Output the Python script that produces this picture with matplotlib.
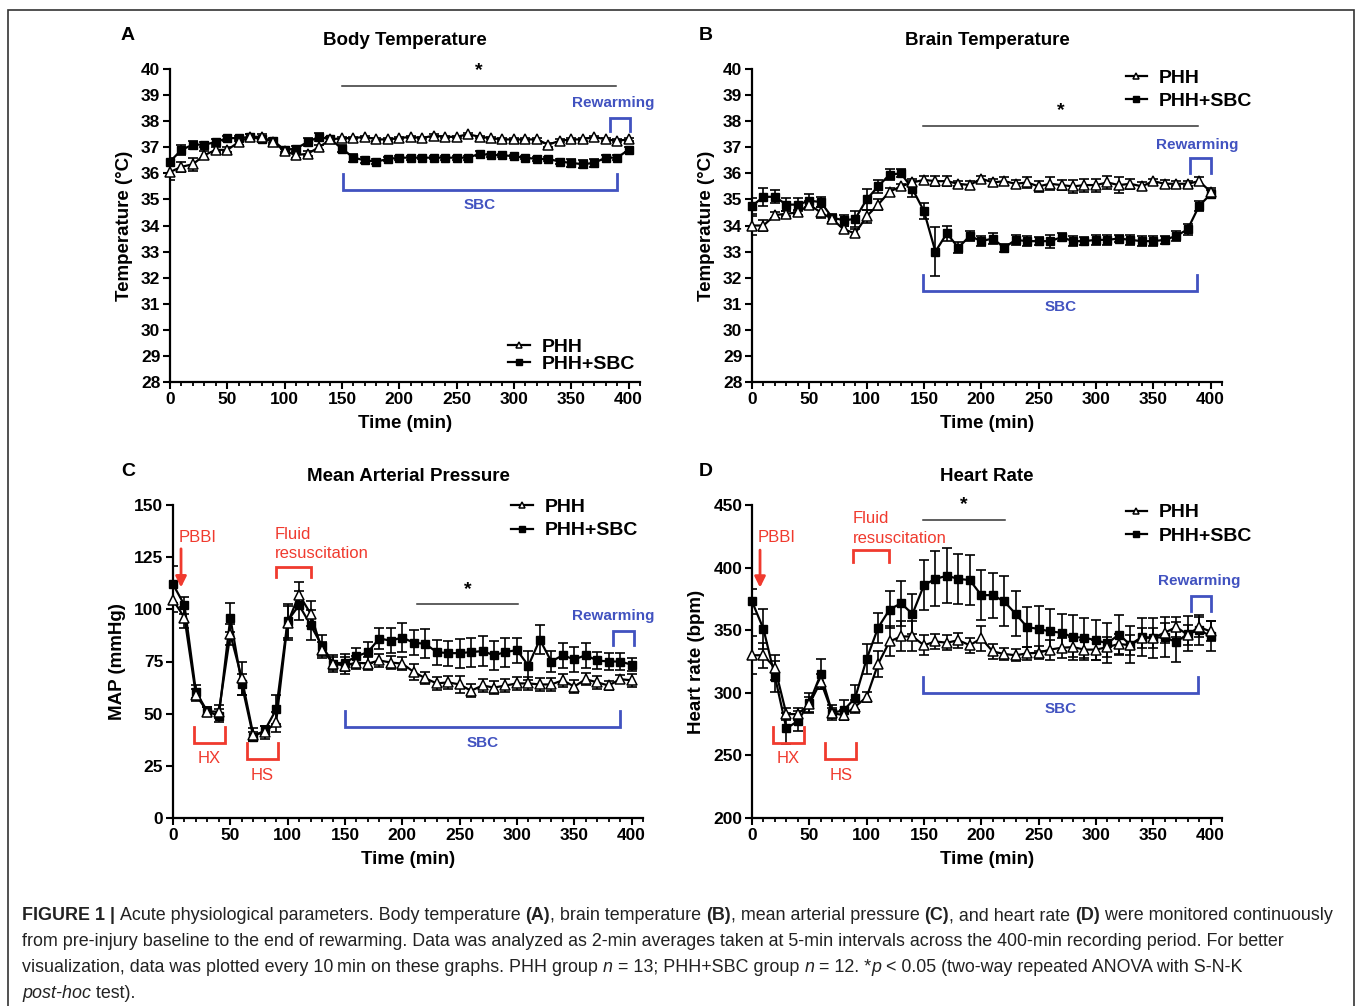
import matplotlib
matplotlib.use("Agg")
import matplotlib.pyplot as plt
from matplotlib.ticker import MultipleLocator
from matplotlib.patches import Rectangle

plt.rcParams['font.family'] = ['Liberation Sans', 'DejaVu Sans']

time = list(range(0, 401, 10))

# body temperature (A)
body_phh = [36.05, 36.25, 36.35, 36.7, 36.9, 36.9, 37.2, 37.4, 37.4, 37.2, 36.85, 36.7, 36.75, 37.0, 37.3,
            37.35, 37.35, 37.4, 37.3, 37.3, 37.35, 37.4, 37.35, 37.45, 37.4, 37.4, 37.5, 37.4, 37.35, 37.3,
            37.3, 37.3, 37.3, 37.1, 37.25, 37.3, 37.3, 37.4, 37.3, 37.25, 37.3]
body_phh_err = [0.3, 0.2, 0.25, 0.15, 0.1, 0.1, 0.1, 0.1, 0.1, 0.1, 0.1, 0.1, 0.1, 0.1, 0.1,
                0.05, 0.05, 0.05, 0.05, 0.05, 0.05, 0.05, 0.05, 0.05, 0.05, 0.05, 0.05, 0.05, 0.05, 0.05,
                0.05, 0.05, 0.05, 0.08, 0.05, 0.05, 0.05, 0.05, 0.05, 0.05, 0.05]
body_sbc = [36.45, 36.9, 37.1, 37.1, 37.2, 37.35, 37.35, 37.4, 37.3, 37.25, 36.9, 36.95, 37.2, 37.4, 37.3,
            36.95, 36.6, 36.5, 36.45, 36.55, 36.6, 36.6, 36.6, 36.6, 36.6, 36.6, 36.6, 36.75, 36.7, 36.7,
            36.65, 36.6, 36.55, 36.55, 36.45, 36.4, 36.35, 36.4, 36.6, 36.6, 36.9]
body_sbc_err = [0.15, 0.2, 0.15, 0.1, 0.1, 0.1, 0.1, 0.1, 0.1, 0.1, 0.1, 0.1, 0.15, 0.15, 0.1,
                0.15, 0.15, 0.12, 0.1, 0.08, 0.08, 0.08, 0.06, 0.06, 0.08, 0.08, 0.08, 0.1, 0.06, 0.06,
                0.06, 0.06, 0.06, 0.08, 0.1, 0.15, 0.15, 0.15, 0.1, 0.1, 0.1]

# brain temperature (B)
brain_phh = [34.0, 34.0, 34.4, 34.45, 34.5, 34.8, 34.5, 34.25, 33.85, 33.7, 34.35, 34.8, 35.3, 35.5, 35.65,
             35.75, 35.7, 35.7, 35.6, 35.55, 35.8, 35.65, 35.7, 35.6, 35.65, 35.5, 35.6, 35.55, 35.5, 35.55,
             35.55, 35.65, 35.55, 35.6, 35.5, 35.7, 35.6, 35.6, 35.6, 35.7, 35.3]
brain_phh_err = [0.35, 0.2, 0.1, 0.1, 0.1, 0.15, 0.2, 0.15, 0.15, 0.15, 0.25, 0.2, 0.15, 0.1, 0.15,
                 0.15, 0.2, 0.2, 0.1, 0.15, 0.1, 0.15, 0.15, 0.15, 0.2, 0.2, 0.25, 0.2, 0.25, 0.25,
                 0.25, 0.25, 0.3, 0.2, 0.15, 0.1, 0.15, 0.1, 0.1, 0.15, 0.15]
brain_sbc = [34.75, 35.1, 35.1, 34.8, 34.8, 34.95, 34.9, 34.3, 34.2, 34.25, 35.0, 35.5, 35.95, 36.0, 35.4,
             34.55, 33.0, 33.7, 33.15, 33.6, 33.4, 33.5, 33.15, 33.45, 33.4, 33.4, 33.4, 33.55, 33.4, 33.4,
             33.45, 33.45, 33.5, 33.45, 33.4, 33.4, 33.45, 33.6, 33.85, 34.75, 35.2]
brain_sbc_err = [0.3, 0.35, 0.25, 0.25, 0.25, 0.25, 0.2, 0.15, 0.2, 0.3, 0.4, 0.25, 0.2, 0.15, 0.3,
                 0.3, 0.95, 0.3, 0.2, 0.2, 0.2, 0.2, 0.15, 0.2, 0.2, 0.15, 0.25, 0.15, 0.2, 0.15,
                 0.2, 0.2, 0.15, 0.2, 0.2, 0.2, 0.15, 0.2, 0.2, 0.2, 0.15]

# mean arterial pressure (C)
map_phh = [104.5, 96, 59, 51, 51, 88, 67, 40, 41, 46, 93.5, 107, 98, 80.5, 74,
           73, 74.5, 74, 75.5, 74.5, 74, 70, 67, 64.5, 65, 64, 61, 63.5, 62.5, 63.5,
           64.5, 64.5, 64, 64, 66, 63, 66.5, 65, 63.5, 66.5, 66]
map_phh_err = [6, 5, 3, 2, 3, 5, 8, 3, 3, 5, 8, 6, 6, 4, 3,
               4, 3, 3, 3, 3, 3, 4, 3, 3, 3, 4, 3, 3, 3, 3,
               3, 3, 3, 3, 3, 3, 3, 3, 2, 2, 3]
map_sbc = [112, 102, 60.5, 51, 49, 96, 64, 39, 42, 52, 94.5, 102, 92.5, 82.5, 74,
           74.5, 77.5, 79.5, 86, 85, 86.5, 84, 83.5, 79.5, 79, 79, 79.5, 80, 78, 79.5,
           80.5, 73, 85.5, 75, 78, 76, 78, 75.5, 75, 75, 73.5]
map_sbc_err = [9, 4, 3, 2, 3, 7, 5, 2, 2, 7, 8, 7, 7, 5, 4,
               4, 4, 5, 5, 6, 7, 6, 7, 6, 6, 7, 7, 7, 7, 7,
               6, 7, 7, 5, 6, 6, 6, 4, 4, 4, 3]

# heart rate (D)
hr_phh = [330, 330, 320, 283, 283, 291, 309, 284, 282, 289, 296.5, 323, 341, 345, 345,
          338, 341, 340, 342, 338, 343.5, 333, 331, 330, 331.5, 332, 334.5, 336, 336.5, 334.5,
          334.5, 336.5, 339, 338, 344, 344, 348, 352.5, 346.5, 352.5, 349]
hr_phh_err = [15, 10, 10, 5, 5, 6, 6, 4, 4, 5, 4, 10, 12, 12, 12,
              8, 6, 6, 6, 6, 10, 6, 5, 5, 5, 5, 8, 8, 8, 8,
              8, 8, 8, 8, 8, 8, 8, 8, 8, 8, 8]
hr_sbc = [373, 351, 313, 271.5, 277.5, 292, 315, 284, 286, 296, 327, 352, 366.5, 371.5, 363,
          386, 391, 393.5, 391, 390, 378, 378, 373, 363, 352.5, 351, 349, 348, 344.5, 344,
          342, 339.5, 346.5, 338.5, 344.5, 344, 344.5, 340.5, 347, 350, 345.5]
hr_sbc_err = [10, 16, 12, 12, 8, 8, 12, 6, 8, 10, 12, 12, 15, 18, 16,
              20, 22, 22, 20, 20, 20, 18, 20, 18, 16, 18, 18, 15, 18, 16,
              16, 16, 16, 15, 15, 16, 16, 16, 14, 12, 12]

red = '#F03A2E'
blue = '#4152C0'

W, H = 1357, 1006
fig = plt.figure(figsize=(W / 100, H / 100), dpi=100)
fig.patches.append(Rectangle((8 / W, 1 - 1012 / H), 1346 / W, 1002 / H, transform=fig.transFigure,
                             fill=False, edgecolor='#333333', lw=1.2))


def make_axes(left_px, top_px, ylim, yticks, title, ylabel):
    ax = fig.add_axes([left_px / W, 1 - (top_px + 313) / H, 470 / W, 313 / H])
    ax.set_xlim(0, 410)
    ax.set_ylim(*ylim)
    ax.set_yticks(yticks)
    ax.xaxis.set_major_locator(MultipleLocator(50))
    ax.xaxis.set_minor_locator(MultipleLocator(10))
    ax.set_xticks([0, 50, 100, 150, 200, 250, 300, 350, 400])
    for s in ['top', 'right']:
        ax.spines[s].set_visible(False)
    for s in ['left', 'bottom']:
        ax.spines[s].set_linewidth(1.6)
    ax.spines['bottom'].set_bounds(0, 410)
    ax.tick_params(which='major', length=5, width=1.5, labelsize=12.5, pad=2)
    ax.tick_params(which='minor', length=3, width=1.3)
    ax.tick_params(axis='y', which='minor', left=False)
    for lab in ax.get_xticklabels() + ax.get_yticklabels():
        lab.set_fontweight('bold')
    ax.set_title(title, fontsize=13.5, fontweight='bold', pad=17)
    ax.set_xlabel('Time (min)', fontsize=13.5, fontweight='bold', labelpad=6)
    ax.set_ylabel(ylabel, fontsize=13.5, fontweight='bold', labelpad=6)
    ax.patch.set_alpha(0)
    return ax


def draw_series(ax, phh, phh_err, sbc, sbc_err):
    ax.errorbar(time, sbc, yerr=sbc_err, fmt='none', ecolor='black', elinewidth=1.2, capsize=3.5,
                capthick=1.2, zorder=2)
    ax.errorbar(time, phh, yerr=phh_err, fmt='none', ecolor='black', elinewidth=1.2, capsize=3.5,
                capthick=1.2, zorder=2)
    ax.plot(time, phh, color='black', lw=1.6, marker='^', ms=6.5, mfc='white', mec='black', mew=1.1,
            label='PHH', zorder=4, clip_on=False)
    ax.plot(time, sbc, color='black', lw=1.6, marker='s', ms=6, mfc='black', mec='black',
            label='PHH+SBC', zorder=3, clip_on=False)


def add_legend(ax, loc, anchor, spacing):
    leg = ax.legend(loc=loc, bbox_to_anchor=anchor, frameon=False, fontsize=14, handlelength=1.1,
                    handletextpad=0.6, labelspacing=spacing, borderpad=0, borderaxespad=0)
    for t in leg.get_texts():
        t.set_fontweight('bold')
    for h in leg.legend_handles:
        h.set_markersize(5)


def bracket(ax, x0, x1, y, arm, color):
    ax.plot([x0, x0, x1, x1], [y + arm, y, y, y + arm], color=color, lw=2, clip_on=False,
            solid_joinstyle='miter', zorder=5)


def star_line(ax, x0, x1, y, ystar):
    ax.plot([x0, x1], [y, y], color='#333333', lw=1.1, clip_on=False)
    ax.text((x0 + x1) / 2, ystar, '*', ha='center', va='center', fontsize=14, fontweight='bold')


# ---------- A ----------
axA = make_axes(170, 69, (28, 40), range(28, 41), 'Body Temperature', 'Temperature (°C)')
draw_series(axA, body_phh, body_phh_err, body_sbc, body_sbc_err)
add_legend(axA, 'lower left', (0.72, 0.028), 0.0)
star_line(axA, 150, 389, 39.35, 39.95)
axA.text(387, 38.7, 'Rewarming', color=blue, fontsize=11, fontweight='bold', ha='center', va='center')
bracket(axA, 384, 401, 38.12, -0.5, blue)
bracket(axA, 151, 390, 35.36, 0.62, blue)
axA.text(270, 34.8, 'SBC', color=blue, fontsize=11, fontweight='bold', ha='center', va='center')

# ---------- B ----------
axB = make_axes(752, 69, (28, 40), range(28, 41), 'Brain Temperature', 'Temperature (°C)')
draw_series(axB, brain_phh, brain_phh_err, brain_sbc, brain_sbc_err)
add_legend(axB, 'upper left', (0.795, 1.0), 0.31)
star_line(axB, 149, 389, 37.8, 38.4)
axB.text(388, 37.1, 'Rewarming', color=blue, fontsize=11, fontweight='bold', ha='center', va='center')
bracket(axB, 382, 400, 36.58, -0.55, blue)
bracket(axB, 149, 388, 31.47, 0.62, blue)
axB.text(269, 30.86, 'SBC', color=blue, fontsize=11, fontweight='bold', ha='center', va='center')

# ---------- C ----------
axC = make_axes(173, 505, (0, 150), range(0, 151, 25), 'Mean Arterial Pressure', 'MAP (mmHg)')
draw_series(axC, map_phh, map_phh_err, map_sbc, map_sbc_err)
add_legend(axC, 'upper left', (0.72, 1.022), 0.31)
star_line(axC, 213, 301, 102.7, 109.5)
axC.text(384, 96.7, 'Rewarming', color=blue, fontsize=11, fontweight='bold', ha='center', va='center')
bracket(axC, 384, 402, 89.6, -6.8, blue)
bracket(axC, 150, 390, 43.5, 7.9, blue)
axC.text(270, 35.8, 'SBC', color=blue, fontsize=11, fontweight='bold', ha='center', va='center')
axC.text(5, 134.5, 'PBBI', color=red, fontsize=12, ha='left', va='center')
axC.annotate('', xy=(7, 110.5), xytext=(7, 129), arrowprops=dict(arrowstyle='-|>', color=red, lw=2,
                                                                  mutation_scale=16, shrinkA=0, shrinkB=0))
axC.text(89, 135.8, 'Fluid', color=red, fontsize=12, ha='left', va='center')
axC.text(89, 126.6, 'resuscitation', color=red, fontsize=12, ha='left', va='center')
bracket(axC, 90, 120, 120.5, -5, red)
bracket(axC, 18.5, 45.5, 35.8, 7.7, red)
axC.text(32, 28.5, 'HX', color=red, fontsize=12, ha='center', va='center')
bracket(axC, 64.5, 91.5, 28.2, 7.8, red)
axC.text(78, 20.5, 'HS', color=red, fontsize=12, ha='center', va='center')

# ---------- D ----------
axD = make_axes(752, 505, (200, 450), range(200, 451, 50), 'Heart Rate', 'Heart rate (bpm)')
draw_series(axD, hr_phh, hr_phh_err, hr_sbc, hr_sbc_err)
add_legend(axD, 'upper left', (0.795, 1.004), 0.31)
star_line(axD, 149, 221, 438.3, 450)
axD.text(390, 389, 'Rewarming', color=blue, fontsize=11, fontweight='bold', ha='center', va='center')
bracket(axD, 383, 400.5, 377, -12, blue)
bracket(axD, 149, 389, 300, 12.8, blue)
axD.text(269, 287, 'SBC', color=blue, fontsize=11, fontweight='bold', ha='center', va='center')
axD.text(4.5, 424.3, 'PBBI', color=red, fontsize=12, ha='left', va='center')
axD.annotate('', xy=(7, 384), xytext=(7, 414), arrowprops=dict(arrowstyle='-|>', color=red, lw=2,
                                                                mutation_scale=16, shrinkA=0, shrinkB=0))
axD.text(88, 438.9, 'Fluid', color=red, fontsize=12, ha='left', va='center')
axD.text(88, 422.9, 'resuscitation', color=red, fontsize=12, ha='left', va='center')
bracket(axD, 88.5, 119.5, 414.2, -9.8, red)
bracket(axD, 18, 45, 259.7, 12.8, red)
axD.text(32, 247.8, 'HX', color=red, fontsize=12, ha='center', va='center')
bracket(axD, 64, 91, 247, 13, red)
axD.text(78, 234, 'HS', color=red, fontsize=12, ha='center', va='center')

# panel letters
for letter, x, y in [('A', 128, 35), ('B', 706, 35), ('C', 128, 471), ('D', 706, 471)]:
    fig.text(x / W, 1 - y / H, letter, fontsize=14, fontweight='bold', ha='center', va='center')

# caption
caption = [
    [('FIGURE 1 | ', 'bold', 'normal'), ('Acute physiological parameters. Body temperature ', 'normal', 'normal'),
     ('(A)', 'bold', 'normal'), (', brain temperature ', 'normal', 'normal'), ('(B)', 'bold', 'normal'),
     (', mean arterial pressure ', 'normal', 'normal'), ('(C)', 'bold', 'normal'),
     (', and heart rate ', 'normal', 'normal'), ('(D)', 'bold', 'normal'),
     (' were monitored continuously', 'normal', 'normal')],
    [('from pre-injury baseline to the end of rewarming. Data was analyzed as 2-min averages taken at 5-min '
      'intervals across the 400-min recording period. For better', 'normal', 'normal')],
    [('visualization, data was plotted every 10\u2009min on these graphs. PHH group ', 'normal', 'normal'),
     ('n', 'normal', 'italic'), (' = 13; PHH+SBC group ', 'normal', 'normal'), ('n', 'normal', 'italic'),
     (' = 12. *', 'normal', 'normal'), ('p', 'normal', 'italic'),
     (' < 0.05 (two-way repeated ANOVA with S-N-K', 'normal', 'normal')],
    [('post-hoc', 'normal', 'italic'), (' test).', 'normal', 'normal')],
]
renderer = fig.canvas.get_renderer()
for i, runs in enumerate(caption):
    x = 22
    y = 916 + i * 25.8
    for txt, weight, style in runs:
        t = fig.text(x / W, 1 - y / H, txt, fontsize=12.9, fontweight=weight, fontstyle=style,
                     color='#222222', ha='left', va='center')
        x += t.get_window_extent(renderer).width

fig.savefig('out.png', dpi=100)
